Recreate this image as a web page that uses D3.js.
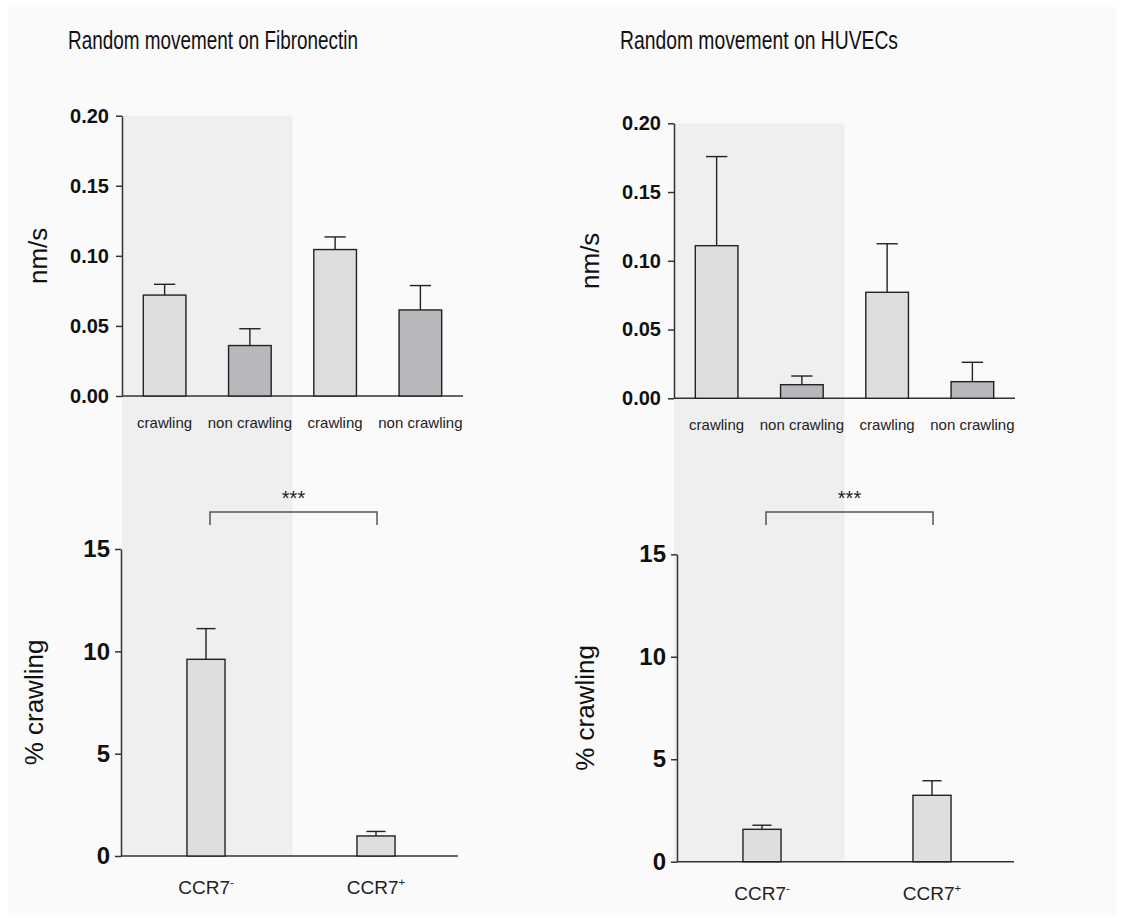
<!DOCTYPE html>
<html>
<head>
<meta charset="utf-8">
<script src="https://cdn.jsdelivr.net/npm/d3@7"></script>
<style>
  body { margin: 0; background: #fff; }
  svg { display: block; font-family: 'Liberation Sans', Arial, sans-serif; }
</style>
</head>
<body>
<svg id="chart" width="1123" height="921"></svg>
<script>
// values
var speedCategories = ['crawling', 'non crawling', 'crawling', 'non crawling'];
var speedTicks = [0, 0.05, 0.10, 0.15, 0.20];
var fibroSpeed = [0.072, 0.036, 0.1045, 0.0614];
var fibroSpeedSem = [0.0077, 0.012, 0.009, 0.0174];
var huvecSpeed = [0.111, 0.0099, 0.0771, 0.0121];
var huvecSpeedSem = [0.0648, 0.0063, 0.0353, 0.0141];

var ccrCategories = ['CCR7', 'CCR7'];
var ccrSigns = ['-', '+'];
var percentTicks = [0, 5, 10, 15];
var fibroCrawling = [9.61, 0.98];
var fibroCrawlingSem = [1.5, 0.22];
var huvecCrawling = [1.58, 3.24];
var huvecCrawlingSem = [0.2, 0.71];

var titles = ['Random movement on Fibronectin', 'Random movement on HUVECs'];

var speedFills = ['#dedede', '#b8b8bc', '#dedede', '#b8b8bc'];
var ccrFills = ['#dedede', '#dedede'];

var svg = d3.select('#chart');

svg.append('rect')
    .attr('x', 8).attr('y', 7)
    .attr('width', 1108).attr('height', 908)
    .attr('fill', '#fafafa');

var back = svg.append('g');

function drawPanel(p) {
    var x = d3.scaleBand()
        .domain(d3.range(p.values.length))
        .range([p.left, p.right])
        .paddingInner(p.pad)
        .paddingOuter(p.pad / 2);
    var y = d3.scaleLinear().domain([0, p.max]).range([p.zero, p.top]);

    var g = svg.append('g');

    g.append('g')
        .attr('transform', 'translate(' + p.left + ',0)')
        .call(d3.axisLeft(y).tickValues(p.ticks).tickFormat(p.format)
            .tickSize(6).tickSizeOuter(0).tickPadding(p.tickPad))
        .call(function(a) {
            a.attr('font-family', null);
            a.select('.domain').attr('stroke', '#333').attr('stroke-width', 1.5);
            a.selectAll('.tick line').attr('stroke', '#333').attr('stroke-width', 1.5);
            a.selectAll('.tick text')
                .attr('font-size', p.tickFont)
                .attr('font-weight', 'bold')
                .attr('fill', '#111');
        });

    g.append('line')
        .attr('x1', p.left).attr('x2', p.axisEnd)
        .attr('y1', y(0)).attr('y2', y(0))
        .attr('stroke', '#333').attr('stroke-width', 1.5);

    var bw = x.bandwidth();
    var idx = d3.range(p.values.length);

    // error bars (upper only)
    g.selectAll('.err').data(idx).enter()
        .append('line')
        .attr('x1', function(i) { return x(i) + bw / 2; })
        .attr('x2', function(i) { return x(i) + bw / 2; })
        .attr('y1', function(i) { return y(p.values[i]); })
        .attr('y2', function(i) { return y(p.values[i] + p.sem[i]); })
        .attr('stroke', '#222').attr('stroke-width', 1.4);
    g.selectAll('.cap').data(idx).enter()
        .append('line')
        .attr('x1', function(i) { return x(i) + bw / 4; })
        .attr('x2', function(i) { return x(i) + bw * 3 / 4; })
        .attr('y1', function(i) { return y(p.values[i] + p.sem[i]); })
        .attr('y2', function(i) { return y(p.values[i] + p.sem[i]); })
        .attr('stroke', '#222').attr('stroke-width', 1.4);

    g.selectAll('.bar').data(idx).enter()
        .append('rect')
        .attr('x', function(i) { return x(i); })
        .attr('y', function(i) { return y(p.values[i]); })
        .attr('width', bw)
        .attr('height', function(i) { return y(0) - y(p.values[i]); })
        .attr('fill', function(i) { return p.fills[i]; })
        .attr('stroke', '#222').attr('stroke-width', 1.4);

    var labels = g.selectAll('.cat').data(idx).enter()
        .append('text')
        .attr('x', function(i) { return x(i) + bw / 2; })
        .attr('y', p.labelY)
        .attr('text-anchor', 'middle')
        .attr('font-size', p.labelFont)
        .attr('fill', '#222');
    labels.append('tspan').text(function(i) { return p.categories[i]; });
    if (p.signs) {
        labels.append('tspan')
            .attr('dy', -8)
            .attr('font-size', p.labelFont * 0.6)
            .text(function(i) { return p.signs[i]; });
    }

    svg.append('text')
        .attr('transform', 'translate(' + (p.left - p.titleOffset) + ',' + ((p.top + p.zero) / 2) + ') rotate(-90)')
        .attr('text-anchor', 'middle')
        .attr('font-size', 26)
        .attr('fill', '#111')
        .text(p.yLabel);

    return { x: x, y: y };
}

var columns = [
    { title: titles[0], titleX: 68, titleW: 290, speed: fibroSpeed, speedSem: fibroSpeedSem,
      crawl: fibroCrawling, crawlSem: fibroCrawlingSem,
      top: { left: 122, right: 463, top: 115.7, zero: 396 },
      bottom: { left: 121, right: 461, top: 549, zero: 856, offset: 78 } },
    { title: titles[1], titleX: 620, titleW: 278, speed: huvecSpeed, speedSem: huvecSpeedSem,
      crawl: huvecCrawling, crawlSem: huvecCrawlingSem,
      top: { left: 674, right: 1015, top: 123.3, zero: 398.3 },
      bottom: { left: 677, right: 1017, top: 554.3, zero: 861.7, offset: 83 } }
];

columns.forEach(function(c) {
    svg.append('text')
        .attr('x', c.titleX).attr('y', 49)
        .attr('font-size', 25)
        .attr('textLength', c.titleW)
        .attr('lengthAdjust', 'spacingAndGlyphs')
        .attr('fill', '#111')
        .text(c.title);

    var topScales = drawPanel({
        values: c.speed, sem: c.speedSem, fills: speedFills,
        categories: speedCategories,
        left: c.top.left, right: c.top.right, axisEnd: c.top.right,
        top: c.top.top, zero: c.top.zero,
        max: 0.2, ticks: speedTicks, format: d3.format('.2f'),
        tickFont: 20, tickPad: 7, pad: 0.5,
        labelY: c.top.zero + 32, labelFont: 15,
        yLabel: 'nm/s', titleOffset: 75
    });

    var bottomScales = drawPanel({
        values: c.crawl, sem: c.crawlSem, fills: ccrFills,
        categories: ccrCategories, signs: ccrSigns,
        left: c.bottom.left, right: c.bottom.right, axisEnd: c.bottom.right - 3,
        top: c.bottom.top, zero: c.bottom.zero,
        max: 15, ticks: percentTicks, format: d3.format('d'),
        tickFont: 24, tickPad: 5, pad: 0.776,
        labelY: c.bottom.zero + 38, labelFont: 19,
        yLabel: '% crawling', titleOffset: c.bottom.offset
    });

    // shaded first pair of conditions
    var tx = topScales.x;
    var shadeRight = tx(2) - (tx.step() - tx.bandwidth()) / 2;
    back.append('rect')
        .attr('x', c.top.left)
        .attr('y', c.top.top)
        .attr('width', shadeRight - c.top.left)
        .attr('height', c.bottom.zero - c.top.top)
        .attr('fill', '#efefef');

    // significance bracket
    var bx = bottomScales.x;
    var x1 = bx(0) + bx.bandwidth() / 2 + 4;
    var x2 = bx(1) + bx.bandwidth() / 2 + 1;
    svg.append('path')
        .attr('d', 'M' + x1 + ',525V512H' + x2 + 'V525')
        .attr('fill', 'none')
        .attr('stroke', '#555')
        .attr('stroke-width', 1.5);
    svg.append('text')
        .attr('x', (x1 + x2) / 2)
        .attr('y', 505)
        .attr('text-anchor', 'middle')
        .attr('font-size', 20)
        .attr('fill', '#222')
        .text('***');
});
</script>
</body>
</html>
